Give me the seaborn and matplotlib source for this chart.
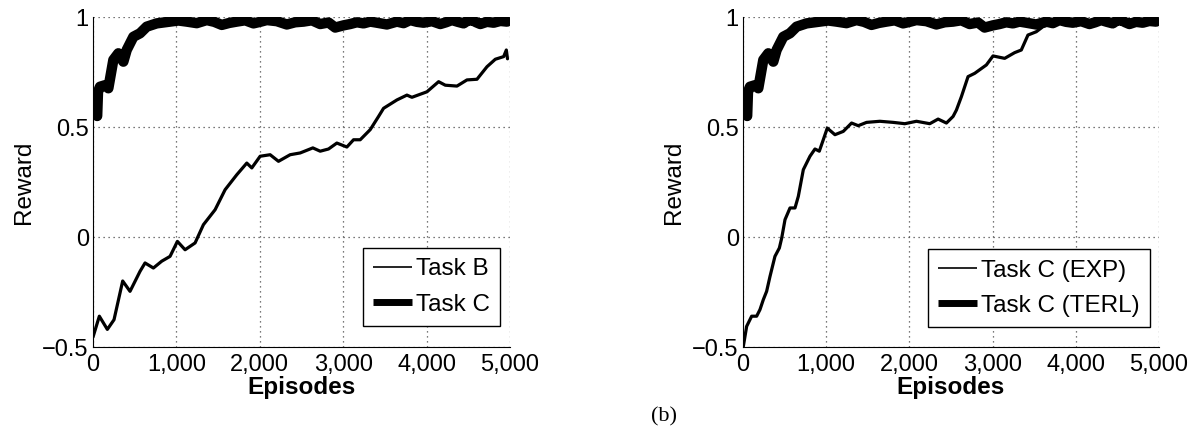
import matplotlib
matplotlib.use('Agg')
import matplotlib.pyplot as plt
import seaborn as sns
from matplotlib.ticker import MultipleLocator

# Values (moving-average reward curves)
ep_b = [0, 76, 172, 252, 356, 444, 564, 624, 724, 824, 924, 1012, 1104, 1224,
        1324, 1464, 1584, 1724, 1844, 1904, 2004, 2124, 2224, 2364, 2484, 2636,
        2724, 2824, 2924, 3044, 3124, 3204, 3324, 3424, 3484, 3644, 3764, 3824,
        4004, 4144, 4224, 4364, 4484, 4604, 4724, 4824, 4924, 4956, 4970]
rew_b = [-0.455, -0.36, -0.42, -0.376, -0.20, -0.247, -0.156, -0.118, -0.141,
         -0.11, -0.088, -0.02, -0.058, -0.027, 0.056, 0.124, 0.215, 0.283, 0.336,
         0.314, 0.367, 0.374, 0.344, 0.374, 0.382, 0.405, 0.39, 0.40, 0.427,
         0.409, 0.442, 0.442, 0.488, 0.548, 0.585, 0.623, 0.645, 0.635, 0.66,
         0.706, 0.69, 0.686, 0.714, 0.717, 0.774, 0.808, 0.82, 0.85, 0.81]

ep_c = [50, 60, 84, 144, 184, 244, 304, 364, 404, 484, 564, 644, 764, 924,
        1024, 1124, 1244, 1364, 1454, 1544, 1634, 1724, 1824, 1924, 2004, 2084,
        2204, 2324, 2424, 2524, 2624, 2724, 2824, 2904, 3004, 3084, 3164, 3244,
        3324, 3404, 3524, 3644, 3724, 3804, 3884, 3964, 4064, 4164, 4234, 4304,
        4374, 4444, 4494, 4544, 4594, 4644, 4724, 4804, 4884, 4964]
rew_c = [0.55, 0.66, 0.683, 0.69, 0.676, 0.805, 0.835, 0.797, 0.85, 0.91, 0.926,
         0.956, 0.971, 0.979, 0.984, 0.979, 0.972, 0.986, 0.978, 0.964, 0.973,
         0.979, 0.985, 0.971, 0.978, 0.986, 0.981, 0.966, 0.976, 0.979, 0.985,
         0.968, 0.975, 0.952, 0.962, 0.968, 0.976, 0.971, 0.979, 0.974, 0.966,
         0.979, 0.972, 0.986, 0.978, 0.974, 0.981, 0.968, 0.976, 0.986, 0.978,
         0.971, 0.984, 0.986, 0.976, 0.968, 0.978, 0.974, 0.982, 0.979]

ep_exp = [4, 44, 104, 164, 204, 244, 284, 324, 384, 437, 465, 505, 565, 625,
          665, 725, 805, 865, 917, 965, 1013, 1105, 1205, 1305, 1385, 1485,
          1645, 1805, 1945, 2085, 2245, 2345, 2445, 2525, 2565, 2625, 2705,
          2785, 2925, 3005, 3145, 3265, 3345, 3425, 3525, 3605, 3725, 3845,
          3965, 4165, 4365, 4565, 4765, 4965]
rew_exp = [-0.497, -0.406, -0.36, -0.36, -0.33, -0.285, -0.247, -0.18, -0.088,
           -0.05, -0.005, 0.079, 0.132, 0.132, 0.185, 0.306, 0.367, 0.40, 0.39,
           0.442, 0.495, 0.465, 0.48, 0.518, 0.506, 0.521, 0.526, 0.521, 0.515,
           0.526, 0.515, 0.536, 0.518, 0.548, 0.577, 0.638, 0.729, 0.744, 0.782,
           0.823, 0.812, 0.838, 0.85, 0.918, 0.933, 0.956, 0.971, 0.978, 0.974,
           0.972, 0.979, 0.977, 0.976, 0.979]

xticks = [0, 1000, 2000, 3000, 4000, 5000]
xtick_labels = ['0', '1,000', '2,000', '3,000', '4,000', '5,000']
yticks = [-0.5, 0, 0.5, 1]
ytick_labels = ['\u22120.5', '0', '0.5', '1']

sns.set_style('white')
plt.rcParams['font.family'] = ['Liberation Sans', 'DejaVu Sans']
plt.rcParams['text.color'] = 'black'
plt.rcParams['axes.labelcolor'] = 'black'

W, H = 1193, 429
fig = plt.figure(figsize=(W / 100, H / 100), dpi=100)
ax1 = fig.add_axes([93 / W, 1 - 347 / H, 417 / W, 330 / H])
ax2 = fig.add_axes([743 / W, 1 - 347 / H, 416 / W, 330 / H])


def draw_panel(ax, ep_thin, rew_thin, thin_label, thick_label, anchor):
    sns.lineplot(x=ep_thin, y=rew_thin, ax=ax, color='black', linewidth=2.3,
                 label=thin_label, solid_joinstyle='round')
    sns.lineplot(x=ep_c, y=rew_c, ax=ax, color='black', linewidth=7.5,
                 label=thick_label, solid_joinstyle='round', solid_capstyle='round')

    ax.set_xlim(0, 5000)
    ax.set_ylim(-0.5, 1)
    ax.set_xticks(xticks)
    ax.set_xticklabels(xtick_labels)
    ax.set_yticks(yticks)
    ax.set_yticklabels(ytick_labels)
    ax.xaxis.set_minor_locator(MultipleLocator(100))
    ax.yaxis.set_minor_locator(MultipleLocator(0.025))
    ax.tick_params(which='major', direction='in', length=4, width=0.8,
                   labelsize=17, pad=3, colors='black')
    ax.tick_params(which='minor', direction='in', length=2.5, width=0.6,
                   colors='0.15')
    ax.tick_params(axis='x', which='major', pad=5)
    ax.grid(True, which='major', linestyle=(0, (1, 3)), color='0.3', linewidth=0.9)
    ax.set_axisbelow(True)
    for side in ['top', 'right']:
        ax.spines[side].set_visible(False)
    for side in ['left', 'bottom']:
        ax.spines[side].set_color('black')
        ax.spines[side].set_linewidth(0.8)

    ax.set_xlabel('Episodes', fontsize=17.5, fontweight='bold', labelpad=0)
    ax.set_ylabel('Reward', fontsize=17.5, labelpad=5)

    leg = ax.legend(loc='lower right', bbox_to_anchor=anchor, borderaxespad=0,
                    fontsize=17.5, frameon=True, fancybox=False, framealpha=1,
                    edgecolor='black', handlelength=1.6, handletextpad=0.15,
                    labelspacing=0.55, borderpad=0.42)
    leg.get_frame().set_linewidth(1.0)
    widths = [1.2, 5]
    for h, w in zip(leg.legend_handles, widths):
        h.set_linewidth(w)
        h.set_solid_capstyle('butt')


draw_panel(ax1, ep_b, rew_b, 'Task B', 'Task C', (0.976, 0.064))
draw_panel(ax2, ep_exp, rew_exp, 'Task C (EXP)', 'Task C (TERL)', (0.978, 0.06))

fig.text(664 / W, 1 - 417 / H, '(b)', ha='center', va='center', fontsize=16,
         family=['Liberation Serif', 'DejaVu Serif'])

fig.savefig('out.png', dpi=100)
